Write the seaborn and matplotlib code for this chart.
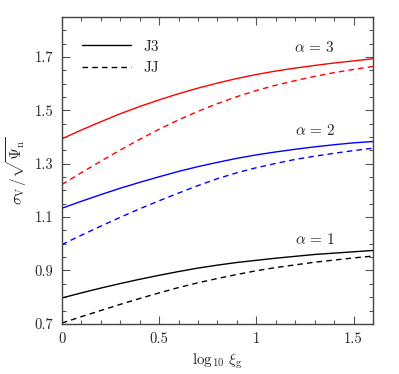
import numpy as np
import pandas as pd
import matplotlib
matplotlib.use('Agg')
import matplotlib.pyplot as plt
from matplotlib.lines import Line2D
from matplotlib.ticker import MultipleLocator
import seaborn as sns

# values
log_xi = [0.0, 0.1, 0.2, 0.3, 0.4, 0.5, 0.6, 0.7, 0.8,
          0.9, 1.0, 1.1, 1.2, 1.3, 1.4, 1.5, 1.6]

a3_j3 = [1.393, 1.426, 1.457, 1.487, 1.514, 1.539, 1.562, 1.583, 1.602,
         1.619, 1.634, 1.647, 1.658, 1.668, 1.677, 1.685, 1.693]
a3_jj = [1.222, 1.266, 1.309, 1.351, 1.391, 1.429, 1.464, 1.496, 1.525,
         1.551, 1.574, 1.594, 1.611, 1.627, 1.641, 1.653, 1.664]
a2_j3 = [1.133, 1.159, 1.184, 1.208, 1.230, 1.251, 1.271, 1.289, 1.305,
         1.320, 1.333, 1.344, 1.354, 1.363, 1.371, 1.378, 1.383]
a2_jj = [0.997, 1.032, 1.066, 1.099, 1.131, 1.161, 1.190, 1.218, 1.244,
         1.266, 1.285, 1.301, 1.316, 1.328, 1.339, 1.349, 1.358]
a1_j3 = [0.797, 0.816, 0.834, 0.851, 0.867, 0.882, 0.896, 0.909, 0.920,
         0.930, 0.938, 0.946, 0.953, 0.960, 0.965, 0.970, 0.975]
a1_jj = [0.703, 0.727, 0.750, 0.773, 0.795, 0.816, 0.836, 0.854, 0.870,
         0.885, 0.899, 0.911, 0.921, 0.931, 0.939, 0.947, 0.954]

series = {(3, 'J3'): a3_j3, (3, 'JJ'): a3_jj,
          (2, 'J3'): a2_j3, (2, 'JJ'): a2_jj,
          (1, 'J3'): a1_j3, (1, 'JJ'): a1_jj}

rows = []
for (alpha, model), vals in series.items():
    for x, y in zip(log_xi, vals):
        rows.append({'x': x, 'y': y, 'alpha': alpha, 'model': model})
df = pd.DataFrame(rows)

sns.set_style('ticks')
plt.rcParams['font.family'] = 'serif'
plt.rcParams['font.serif'] = ['cmr10', 'DejaVu Serif']
plt.rcParams['mathtext.fontset'] = 'cm'
plt.rcParams['axes.formatter.use_mathtext'] = True
plt.rcParams['axes.unicode_minus'] = False

fig = plt.figure(figsize=(3.99, 3.74), dpi=100)
ax = fig.add_axes([0.155, 0.134, 0.78, 0.821])

pal = {1: 'black', 2: 'blue', 3: 'red'}
sns.lineplot(data=df, x='x', y='y', hue='alpha', style='model', palette=pal,
             dashes={'J3': '', 'JJ': (4, 3)}, linewidth=1, legend=False, ax=ax)

ax.set_xlim(0, 1.6)
ax.set_ylim(0.7, 1.85)
ax.set_xticks([0, 0.5, 1, 1.5])
ax.set_xticklabels(['0', '0.5', '1', '1.5'])
ax.set_yticks([0.7, 0.9, 1.1, 1.3, 1.5, 1.7])
ax.set_yticklabels(['0.7', '0.9', '1.1', '1.3', '1.5', '1.7'])
ax.xaxis.set_minor_locator(MultipleLocator(0.1))
ax.yaxis.set_minor_locator(MultipleLocator(0.05))
ax.tick_params(which='both', direction='in', top=True, right=True,
               labelsize=10.5, color='#555555', pad=6)
ax.tick_params(which='major', length=6, width=0.8)
ax.tick_params(which='minor', length=3, width=0.8)
for s in ax.spines.values():
    s.set_color('#444444')
    s.set_linewidth(1)

ax.set_xlabel(r'$\log_{10}\,\xi_{\rm g}$', fontsize=11)
ax.set_ylabel(r'$\sigma_{\rm V}\,/\sqrt{\mathbf{\Psi}_{\rm n}}$', fontsize=11)

for a, yy in [(3, 1.737), (2, 1.423), (1, 1.015)]:
    ax.text(1.3, yy, r'$\alpha\,=\,%d$' % a, ha='center', va='center', fontsize=11)

handles = [Line2D([], [], color='black', lw=1),
           Line2D([], [], color='black', lw=1, dashes=(4, 3))]
ax.legend(handles, ['J3', 'JJ'], loc='upper left', frameon=False,
          fontsize=11, handlelength=3.2, bbox_to_anchor=(0.02, 0.97))

fig.savefig('out.png', dpi=100)
